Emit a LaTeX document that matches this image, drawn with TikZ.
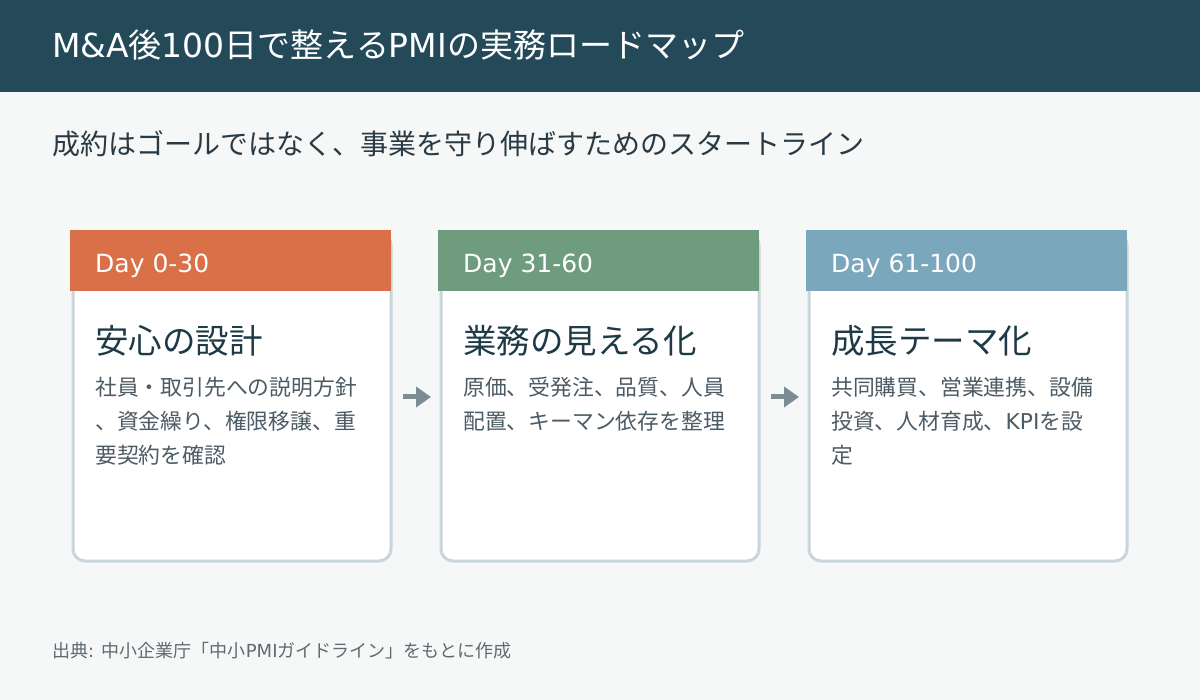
\documentclass[tikz,border=0pt]{standalone}
\usepackage{fontspec}
\setmainfont{Noto Sans CJK JP}
\newfontfamily\dvs{DejaVu Sans}
\newcommand{\lat}[1]{{\dvs #1}}
\usetikzlibrary{arrows.meta}
\definecolor{bg}{HTML}{F6F8F8}
\definecolor{hdr}{HTML}{244A5A}
\definecolor{cborder}{HTML}{C8D5DA}
\definecolor{corange}{HTML}{D97047}
\definecolor{cgreen}{HTML}{6F9B7E}
\definecolor{cblue}{HTML}{7BA7BD}
\definecolor{ttl}{HTML}{1E3A47}
\definecolor{bodyc}{HTML}{4C5B64}
\definecolor{arrc}{HTML}{7B8C93}
\definecolor{subc}{HTML}{2A3A44}
\definecolor{footc}{HTML}{5F6B72}
\begin{document}
\begin{tikzpicture}[x=1pt,y=-1pt,
  card/.style={draw=cborder, line width=3pt, fill=white, rounded corners=12pt, minimum width=318pt, minimum height=328pt, anchor=north west, inner sep=0pt},
  band/.style={minimum width=321pt, minimum height=61pt, anchor=north west, inner sep=0pt},
  daytxt/.style={anchor=base west, text=white, font=\dvs\fontsize{25}{30}\selectfont, inner sep=0pt},
  ctitle/.style={anchor=base west, text=ttl, font=\fontsize{33.5}{38}\selectfont, inner sep=0pt},
  cbody/.style={anchor=base west, text=bodyc, font=\fontsize{21.8}{34}\selectfont, inner sep=0pt},
  flow/.style={draw=arrc, line width=5pt, -{Triangle[length=15pt,width=20pt]}}
]
\useasboundingbox (0,0) rectangle (1200,700);
\fill[bg] (0,0) rectangle (1200,700);
\fill[hdr] (0,0) rectangle (1200,92);
\node[anchor=base west, text=white, font=\fontsize{33}{36}\selectfont, inner sep=0pt] (title) at (52,58) {\lat{M\&A}後\lat{100}日で整える\lat{PMI}の実務ロードマップ};
\node[anchor=base west, text=subc, font=\fontsize{28}{32}\selectfont, inner sep=0pt] (sub) at (52,155) {成約はゴールではなく、事業を守り伸ばすためのスタートライン};

% cards
\node[card] (c1) at (71.5,231.5) {};
\node[band, fill=corange] (b1) at (70,230) {};
\node[daytxt] (d1) at (95,273) {Day 0-30};
\node[ctitle] (t1) at (95,354) {安心の設計};
\node[cbody] (x1a) at (95,396) {社員・取引先への説明方針};
\node[cbody] (x1b) at (95,430) {、資金繰り、権限移譲、重};
\node[cbody] (x1c) at (95,464) {要契約を確認};

\node[card] (c2) at (439.5,231.5) {};
\node[band, fill=cgreen] (b2) at (438,230) {};
\node[daytxt] (d2) at (463,273) {Day 31-60};
\node[ctitle] (t2) at (463,354) {業務の見える化};
\node[cbody] (x2a) at (463,396) {原価、受発注、品質、人員};
\node[cbody] (x2b) at (463,430) {配置、キーマン依存を整理};

\node[card] (c3) at (807.5,231.5) {};
\node[band, fill=cblue] (b3) at (806,230) {};
\node[daytxt] (d3) at (831,273) {Day 61-100};
\node[ctitle] (t3) at (831,354) {成長テーマ化};
\node[cbody] (x3a) at (831,396) {共同購買、営業連携、設備};
\node[cbody] (x3b) at (831,430) {投資、人材育成、\lat{KPI}を設};
\node[cbody] (x3c) at (831,464) {定};

% arrows
\coordinate (a1s) at (403,397);
\coordinate (a1e) at (431,397);
\coordinate (a2s) at (771,397);
\coordinate (a2e) at (799,397);
\draw[flow] (a1s) -- (a1e);
\draw[flow] (a2s) -- (a2e);

\node[anchor=base west, text=footc, font=\fontsize{18}{20}\selectfont, inner sep=0pt] (foot) at (52,657) {出典\lat{: }中小企業庁「中小\lat{PMI}ガイドライン」をもとに作成};
\end{tikzpicture}
\end{document}
